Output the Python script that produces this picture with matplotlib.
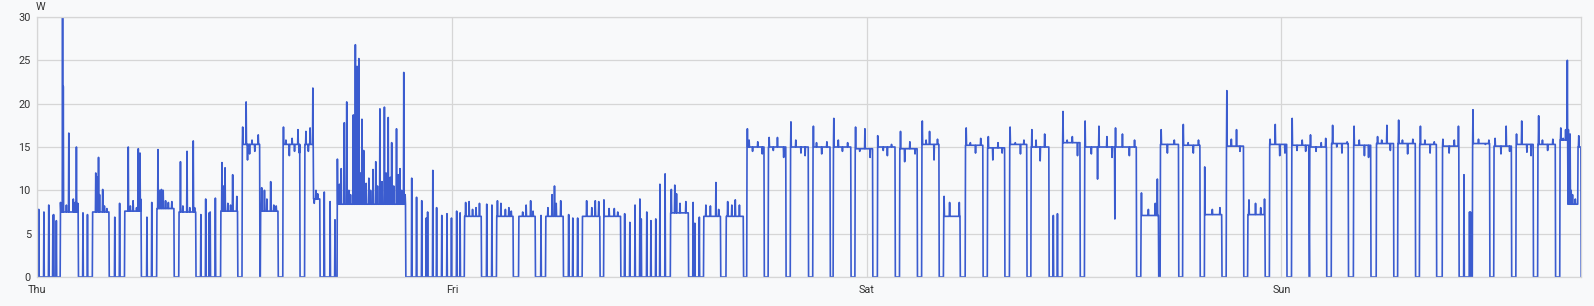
import numpy as np
import matplotlib
matplotlib.use("Agg")
import matplotlib.pyplot as plt

# Puissance (W) sur ~3.7 jours, temps en heures depuis jeudi 00:00
t_fin = 89.33

# plages "allumé" : début (h), fin (h), niveau (W)
seg_debut = [1.35, 3.22, 5.07, 6.94, 8.22, 10.63, 11.88, 12.93, 14.24, 15.49,
             15.99, 17.38, 24.73, 26.60, 27.87, 29.44, 31.56, 32.81, 36.65, 38.58,
             39.87, 41.07, 42.32, 43.60, 44.89, 46.07, 47.34, 48.63, 49.92, 51.20,
             52.45, 53.72, 55.00, 56.27, 57.52, 59.33, 60.61, 63.87, 65.00, 66.30,
             67.55, 68.81, 70.06, 71.31, 72.59, 73.63, 74.90, 76.18, 77.49, 78.74,
             80.00, 81.31, 83.06, 84.30, 85.57, 86.84, 88.12, 88.58, 89.15]
seg_fin = [2.39, 4.18, 6.04, 7.93, 9.20, 11.61, 12.90, 13.96, 15.22, 15.99,
           16.38, 21.34, 25.71, 27.56, 28.84, 30.46, 32.58, 33.78, 37.69, 39.56,
           40.87, 42.07, 43.33, 44.64, 45.89, 47.09, 48.36, 49.65, 50.93, 52.20,
           53.41, 54.73, 56.00, 57.27, 58.55, 60.36, 63.62, 64.89, 66.05, 67.30,
           68.56, 69.81, 71.06, 72.32, 73.60, 74.61, 75.88, 77.18, 78.49, 79.75,
           80.98, 82.27, 84.05, 85.32, 86.57, 87.85, 88.58, 89.15, 89.33]
seg_niveau = [7.5, 7.5, 7.6, 7.9, 7.5, 7.6, 15.3, 7.6, 15.3, 15.3,
              9.0, 8.4, 7.0, 7.0, 7.0, 7.0, 7.0, 7.0, 7.4, 7.0,
              7.0, 15.0, 15.0, 15.0, 15.0, 15.0, 14.8, 15.0, 14.8, 15.3,
              7.0, 15.2, 14.9, 15.3, 15.0, 15.5, 15.0, 7.1, 15.3, 15.2,
              7.2, 15.1, 7.2, 15.3, 15.2, 15.0, 15.4, 15.2, 15.4, 15.4,
              15.3, 15.1, 15.4, 15.1, 15.3, 15.3, 15.8, 8.4, 15.0]

# pics ponctuels (pendant ou hors des plages)
pic_t = [0.10, 0.39, 0.68, 0.91, 0.97, 1.12, 1.36, 1.49, 1.51, 1.70, 1.85, 2.10, 2.20, 2.29, 2.35,
         2.66, 2.93, 3.40, 3.45, 3.55, 3.62, 3.80, 3.90, 4.05, 4.50, 4.78,
         5.28, 5.40, 5.55, 5.75, 5.86, 5.96, 6.00, 6.35, 6.65,
         7.00, 7.10, 7.20, 7.30, 7.45, 7.60, 7.80, 8.30, 8.45, 8.67, 8.85, 9.05, 9.12,
         9.47, 9.76, 9.96, 10.03, 10.32, 10.70, 10.80, 10.89, 11.05, 11.20, 11.33, 11.55,
         11.90, 12.10, 12.18, 12.30, 12.45, 12.60, 12.80, 13.00, 13.15, 13.30, 13.52, 13.70, 13.85,
         14.26, 14.40, 14.60, 14.75, 14.90, 15.10, 15.18, 15.55, 15.70, 15.80, 15.97,
         16.05, 16.15, 16.25, 16.63, 16.96, 17.23,
         17.38, 17.50, 17.60, 17.79, 17.92, 18.05, 18.15, 18.31, 18.42, 18.52, 18.63, 18.72,
         18.81, 18.90, 19.05, 19.21, 19.30, 19.43, 19.60, 19.70, 19.85, 19.95, 20.10, 20.20,
         20.33, 20.45, 20.53, 20.65, 20.79, 20.90, 21.00, 21.10, 21.22, 21.30,
         21.68, 21.97, 22.26, 22.51, 22.61, 22.90, 23.13, 23.42, 23.71, 23.98, 24.29, 24.48,
         24.80, 25.00, 25.20, 25.40, 25.60, 26.02, 26.31, 26.65, 26.85, 27.10, 27.30, 27.45,
         28.10, 28.30, 28.55, 28.70, 29.15, 29.55, 29.80, 29.94, 30.05, 30.30,
         30.75, 31.00, 31.27, 31.80, 32.10, 32.30, 32.50, 32.81, 33.10, 33.40, 33.60,
         33.99, 34.30, 34.59, 34.88, 34.97, 35.28, 35.53, 35.80, 36.03, 36.34,
         36.70, 36.90, 37.00, 37.20, 37.55, 37.96, 38.06, 38.31,
         38.70, 38.95, 39.28, 39.45, 39.95, 40.20, 40.40, 40.65,
         41.10, 41.20, 41.40, 41.70, 41.95, 42.35, 42.60, 42.85, 43.20,
         43.62, 43.90, 44.20, 44.45, 44.92, 45.10, 45.40, 45.70, 46.10, 46.35, 46.60, 46.90,
         47.36, 47.60, 47.90, 48.20, 48.65, 48.95, 49.20, 49.45, 49.95, 50.20, 50.50, 50.80,
         51.22, 51.45, 51.65, 51.90, 52.10, 52.48, 52.80, 53.35,
         53.75, 54.00, 54.30, 54.60, 55.05, 55.30, 55.60, 55.85, 56.30, 56.60, 56.90, 57.10,
         57.55, 57.80, 58.05, 58.30, 58.80, 59.03, 59.36, 59.60, 59.90, 60.20,
         60.64, 61.00, 61.35, 61.45, 61.90, 62.20, 62.35, 62.40, 62.80, 63.20, 63.50,
         63.90, 64.30, 64.70, 64.82, 65.05, 65.40, 65.80, 66.33, 66.60, 66.90, 67.20,
         67.55, 68.00, 68.45, 68.84, 69.10, 69.40, 69.60, 70.12, 70.50, 70.80, 71.02,
         71.35, 71.65, 71.90, 72.20, 72.62, 72.90, 73.20, 73.40, 73.61,
         73.68, 74.00, 74.30, 74.55, 74.95, 75.20, 75.50, 75.80, 76.21, 76.50, 76.80, 77.05,
         77.55, 77.80, 78.10, 78.30, 78.78, 79.00, 79.30, 79.60, 80.03, 80.30, 80.60, 80.85,
         81.35, 81.70, 82.00, 82.25, 82.56, 82.87, 82.94, 83.08, 83.40, 83.80, 84.00,
         84.35, 84.70, 85.00, 85.20, 85.60, 85.90, 86.20, 86.45, 86.87, 87.10, 87.40, 87.70,
         88.15, 88.30, 88.45, 88.54, 88.56, 88.60, 88.65, 88.70, 88.75, 88.85, 89.00, 89.20]
pic_v = [7.8, 7.5, 8.3, 7.1, 7.2, 6.5, 8.6, 30.0, 22.0, 8.3, 16.6, 9.0, 8.6, 15.0, 8.5,
         7.4, 7.2, 12.0, 11.6, 13.8, 9.5, 10.1, 8.2, 7.9, 6.9, 8.5,
         15.0, 8.2, 8.8, 8.0, 14.8, 14.3, 9.0, 6.9, 8.6,
         14.7, 10.0, 10.1, 10.0, 8.8, 8.6, 8.7, 13.3, 8.2, 14.5, 8.0, 15.7, 8.0,
         7.2, 9.0, 7.4, 7.5, 9.1, 13.2, 10.5, 12.6, 8.5, 8.3, 11.8, 9.3,
         17.3, 20.2, 13.5, 14.2, 15.8, 14.5, 16.4, 10.3, 10.0, 9.0, 11.0, 8.3, 8.2,
         17.3, 15.8, 14.0, 16.0, 14.5, 17.0, 14.3, 16.8, 14.5, 17.2, 21.8,
         8.5, 10.0, 9.6, 9.8, 8.7, 6.6,
         13.6, 10.7, 12.5, 17.8, 20.2, 10.0, 9.5, 18.7, 26.8, 24.3, 25.2, 12.0,
         18.2, 14.6, 10.8, 11.4, 10.0, 12.4, 13.3, 10.5, 19.4, 11.0, 19.6, 12.0,
         18.4, 11.5, 15.5, 10.5, 17.1, 11.8, 12.5, 10.0, 23.6, 9.5,
         11.4, 9.2, 8.8, 6.8, 7.5, 12.3, 8.0, 7.1, 7.3, 6.8, 7.6, 7.4,
         8.6, 8.7, 7.8, 8.0, 8.5, 8.4, 8.3, 8.8, 8.5, 7.8, 8.0, 7.6,
         7.5, 8.3, 8.8, 7.6, 7.1, 8.0, 9.5, 10.5, 8.5, 8.8,
         7.2, 6.8, 6.8, 8.8, 8.0, 8.8, 8.7, 8.9, 7.9, 7.9, 7.5,
         7.3, 6.3, 8.3, 9.0, 6.7, 7.5, 6.5, 6.7, 10.7, 11.9,
         10.1, 10.6, 9.6, 8.5, 8.7, 8.6, 6.2, 6.9,
         8.3, 8.2, 10.9, 7.8, 8.7, 8.3, 8.9, 8.3,
         17.1, 15.8, 14.5, 15.6, 14.2, 16.1, 14.6, 16.1, 13.8,
         17.9, 15.8, 14.3, 14.0, 17.4, 15.5, 14.2, 15.6, 18.3, 15.8, 14.5, 15.5,
         17.3, 14.5, 17.1, 13.8, 16.3, 14.6, 14.0, 15.3, 16.8, 13.3, 15.6, 14.2,
         18.0, 15.8, 16.8, 13.5, 15.9, 9.3, 8.6, 8.6,
         17.2, 15.5, 14.3, 16.0, 16.2, 13.5, 15.5, 14.3, 17.3, 15.5, 14.2, 15.8,
         17.0, 15.8, 13.4, 16.5, 7.1, 7.3, 19.1, 15.8, 16.2, 14.0,
         18.0, 14.2, 11.3, 17.4, 16.2, 13.8, 6.7, 17.2, 16.5, 14.0, 15.8,
         9.7, 7.8, 8.5, 11.3, 17.0, 14.3, 15.8, 17.6, 15.5, 14.3, 15.8,
         12.7, 7.8, 8.0, 21.5, 15.9, 17.0, 14.5, 8.9, 8.5, 8.0, 9.0,
         15.9, 17.6, 14.0, 14.3, 18.3, 14.6, 15.8, 14.5, 6.0,
         16.4, 14.5, 15.5, 16.0, 17.5, 15.0, 14.3, 15.6, 17.4, 15.8, 14.0, 13.8,
         16.2, 15.8, 17.5, 14.6, 18.1, 15.8, 14.2, 15.9, 17.4, 15.8, 14.3, 15.6,
         15.9, 14.3, 15.8, 17.4, 11.8, 7.5, 7.5, 19.3, 15.9, 15.3, 15.8,
         16.0, 14.2, 17.4, 14.5, 16.5, 18.0, 14.4, 14.0, 18.6, 15.8, 14.6, 15.9,
         17.2, 16.0, 17.0, 25.0, 15.0, 17.0, 13.0, 16.5, 10.0, 9.5, 9.0, 16.3]

jours = ["Thu", "Fri", "Sat", "Sun"]
jours_h = [0, 24, 48, 72]

# construction de la série
pas = 0.02
t = np.arange(0, t_fin + pas, pas)
p = np.zeros_like(t)
for d, f, n in zip(seg_debut, seg_fin, seg_niveau):
    p[(t >= d) & (t < f)] = n
idx = np.clip(np.round(np.array(pic_t) / pas).astype(int), 0, len(t) - 1)
p[idx] = pic_v

fond = "#f8f9fa"
fig = plt.figure(figsize=(15.94, 3.06), dpi=100, facecolor=fond)
ax = fig.add_axes([37 / 1594, 29 / 306, 1544 / 1594, 260 / 306], facecolor=fond)

ax.plot(t, p, color="#3b5ccf", lw=1.2)

ax.set_xlim(0, t_fin)
ax.set_ylim(0, 30)
ax.set_yticks(range(0, 31, 5))
ax.set_xticks(jours_h)
ax.set_xticklabels(jours)
ax.grid(True, color="#d6d6d6", lw=0.9)
ax.set_axisbelow(True)
for s in ax.spines.values():
    s.set_color("#d6d6d6")
    s.set_linewidth(0.9)
ax.tick_params(length=0, labelsize=7.8, labelcolor="#333333")
ax.tick_params(axis="y", pad=4.5)
ax.tick_params(axis="x", pad=6)
for lab in ax.get_xticklabels() + ax.get_yticklabels():
    lab.set_family("Roboto")

fig.text(36 / 1594, 1 - 7.5 / 306, "W", ha="left", va="center",
         fontsize=7.8, color="#333333", family="Roboto")

fig.savefig("out.png", dpi=100, facecolor=fond)
